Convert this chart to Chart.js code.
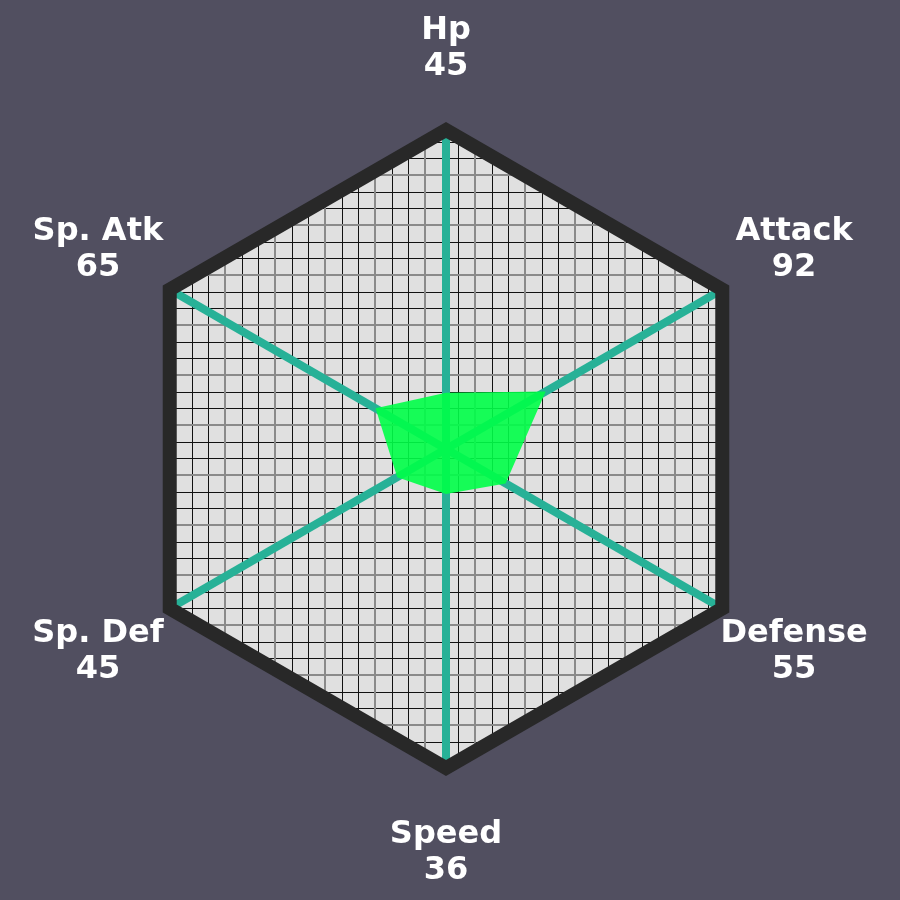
<!DOCTYPE html>
<html>
<head>
<meta charset="utf-8">
<script src="https://cdn.jsdelivr.net/npm/chart.js@4"></script>
<style>
  html, body { margin: 0; padding: 0; background: #514f60; }
  canvas { display: block; }
</style>
</head>
<body>
<canvas id="radar" width="900" height="900"></canvas>
<script>
// stats
const statNames = ['Hp', 'Attack', 'Defense', 'Speed', 'Sp. Def', 'Sp. Atk'];
const statValues = [45, 92, 55, 36, 45, 65];
const statMax = 255;

const BG = '#514f60';
const HEX_FILL = '#e0e0e0';
const HEX_BORDER = '#282828';
const SPOKE = '#27b197';

function hexPath(ctx, scale, r) {
  ctx.beginPath();
  for (let i = 0; i < statNames.length; i++) {
    const p = scale.getPointPosition(i, r);
    if (i === 0) ctx.moveTo(p.x, p.y);
    else ctx.lineTo(p.x, p.y);
  }
  ctx.closePath();
}

// background, hexagon fill and the square paper grid
const paperPlugin = {
  id: 'paper',
  beforeDraw(chart) {
    const ctx = chart.ctx;
    const scale = chart.scales.r;
    const r = scale.drawingArea;
    ctx.save();
    ctx.fillStyle = BG;
    ctx.fillRect(0, 0, chart.width, chart.height);
    hexPath(ctx, scale, r);
    ctx.fillStyle = HEX_FILL;
    ctx.fill();
    ctx.clip();
    const step = 50 / 3;
    // minor lines, snapped to whole pixels so they stay crisp
    ctx.strokeStyle = '#111';
    ctx.lineWidth = 1;
    ctx.beginPath();
    for (let v = 25 - 50; v < chart.width + 50; v += step) {
      const p = Math.round(v) + 0.5;
      ctx.moveTo(p, 0); ctx.lineTo(p, chart.height);
      ctx.moveTo(0, p); ctx.lineTo(chart.width, p);
    }
    ctx.stroke();
    // major lines
    ctx.strokeStyle = '#8a8a8a';
    ctx.lineWidth = 2;
    ctx.beginPath();
    for (let v = 25; v < chart.width; v += 50) {
      ctx.moveTo(v, 0); ctx.lineTo(v, chart.height);
      ctx.moveTo(0, v); ctx.lineTo(chart.width, v);
    }
    ctx.stroke();
    ctx.restore();
  },
  beforeDatasetsDraw(chart) {
    const ctx = chart.ctx;
    const scale = chart.scales.r;
    ctx.save();
    hexPath(ctx, scale, scale.drawingArea);
    ctx.strokeStyle = HEX_BORDER;
    ctx.lineWidth = 14;
    ctx.lineJoin = 'miter';
    ctx.stroke();
    ctx.restore();
  },
  afterDraw(chart) {
    const ctx = chart.ctx;
    const scale = chart.scales.r;
    ctx.save();
    ctx.fillStyle = '#ffffff';
    ctx.font = 'bold 32px "DejaVu Sans"';
    ctx.textAlign = 'center';
    ctx.textBaseline = 'middle';
    statNames.forEach((name, i) => {
      const p = scale.getPointPosition(i, scale.drawingArea * 1.26);
      ctx.fillText(name, p.x, p.y - 16);
      ctx.fillText(String(statValues[i]), p.x, p.y + 20);
    });
    ctx.restore();
  }
};

new Chart(document.getElementById('radar'), {
  type: 'radar',
  data: {
    labels: statNames,
    datasets: [{
      data: statValues,
      backgroundColor: 'rgba(0, 255, 72, 0.9)',
      borderWidth: 0,
      pointRadius: 0,
      fill: true
    }]
  },
  options: {
    responsive: false,
    animation: false,
    layout: { padding: { left: 127, right: 135, top: 130, bottom: 132 } },
    plugins: { legend: { display: false }, tooltip: { enabled: false } },
    scales: {
      r: {
        min: 0,
        max: statMax,
        ticks: { display: false },
        pointLabels: { display: false },
        grid: { display: false },
        angleLines: { display: true, color: SPOKE, lineWidth: 8 }
      }
    }
  },
  plugins: [paperPlugin]
});
</script>
</body>
</html>
